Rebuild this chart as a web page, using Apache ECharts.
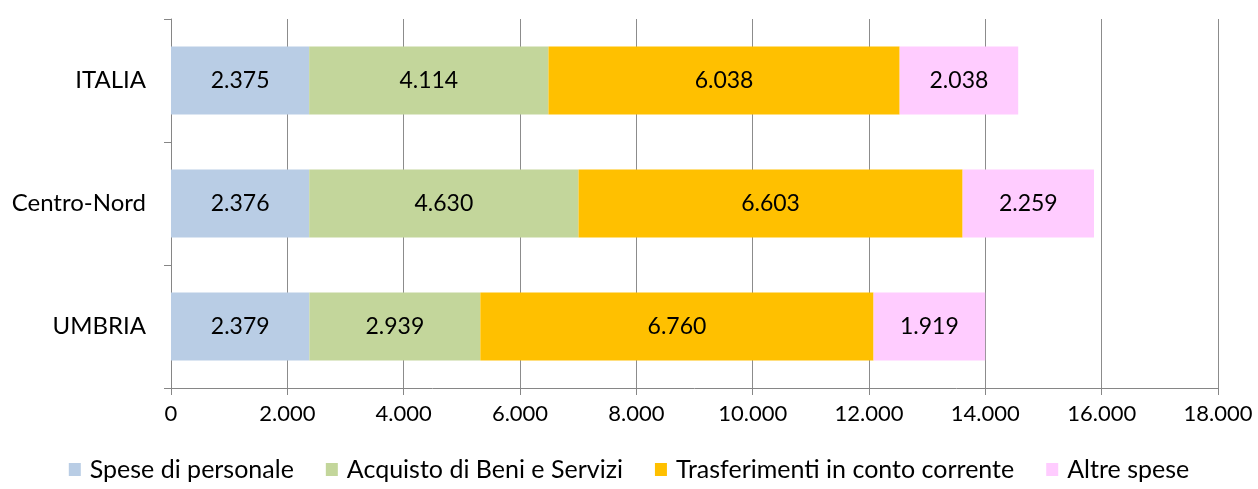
<!DOCTYPE html>
<html>
<head>
<meta charset="utf-8">
<script src="https://cdn.jsdelivr.net/npm/echarts@6/dist/echarts.min.js"></script>
<style>
  html, body { margin: 0; padding: 0; background: #fff; }
  #chart { width: 1258px; height: 489px; }
</style>
</head>
<body>
<div id="chart"></div>
<script>
// categories bottom-to-top (category axis starts at the bottom)
var categories = ['UMBRIA', 'Centro-Nord', 'ITALIA']
var spesePersonale = [2379, 2376, 2375]
var acquistoBeni = [2939, 4630, 4114]
var trasferimenti = [6760, 6603, 6038]
var altreSpese = [1919, 2259, 2038]
var seriesNames = ['Spese di personale', 'Acquisto di Beni e Servizi', 'Trasferimenti in conto corrente', 'Altre spese']
var colors = ['#B9CDE5', '#C3D69B', '#FFC000', '#FFCCFF']

var font = 'Lato, "Open Sans", sans-serif'

function fmt(v){
  return String(v).replace(/\B(?=(\d{3})+(?!\d))/g, '.')
}

function makeSeries(name, data, color){
  return {
    name: name,
    type: 'bar',
    stack: 'tot',
    barWidth: 68,
    data: data,
    itemStyle: { color: color },
    label: {
      show: true,
      position: 'inside',
      color: '#000',
      fontSize: 23,
      fontFamily: font,
      formatter: function(p){ return fmt(p.value) }
    }
  }
}

const Chart = echarts.init(document.getElementById('chart'))
Chart.setOption({
  animation: false,
  textStyle: { fontFamily: font },
  grid: { left: 171, right: 40, top: 19, bottom: 101, containLabel: false },
  legend: {
    bottom: 2,
    left: 'center',
    itemWidth: 12,
    itemHeight: 13,
    itemGap: 32,
    icon: 'rect',
    textStyle: { fontSize: 25, color: '#000', fontFamily: font, padding: [0, 0, 0, 4] },
    data: seriesNames
  },
  xAxis: {
    type: 'value',
    min: 0,
    max: 18000,
    interval: 2000,
    axisLine: { show: true, lineStyle: { color: '#868686' } },
    axisTick: { show: true, length: 7, lineStyle: { color: '#868686' } },
    splitLine: { show: true, lineStyle: { color: '#8c8c8c' } },
    axisLabel: {
      color: '#000',
      fontSize: 22,
      margin: 15,
      fontFamily: font,
      formatter: function(v){ return fmt(v) }
    }
  },
  yAxis: {
    type: 'category',
    data: categories,
    axisLine: { show: true, lineStyle: { color: '#868686' } },
    axisTick: { show: true, length: 7, lineStyle: { color: '#868686' } },
    axisLabel: { color: '#000', fontSize: 24, margin: 25, fontFamily: font }
  },
  series: [
    makeSeries(seriesNames[0], spesePersonale, colors[0]),
    makeSeries(seriesNames[1], acquistoBeni, colors[1]),
    makeSeries(seriesNames[2], trasferimenti, colors[2]),
    makeSeries(seriesNames[3], altreSpese, colors[3])
  ]
})
</script>
</body>
</html>
